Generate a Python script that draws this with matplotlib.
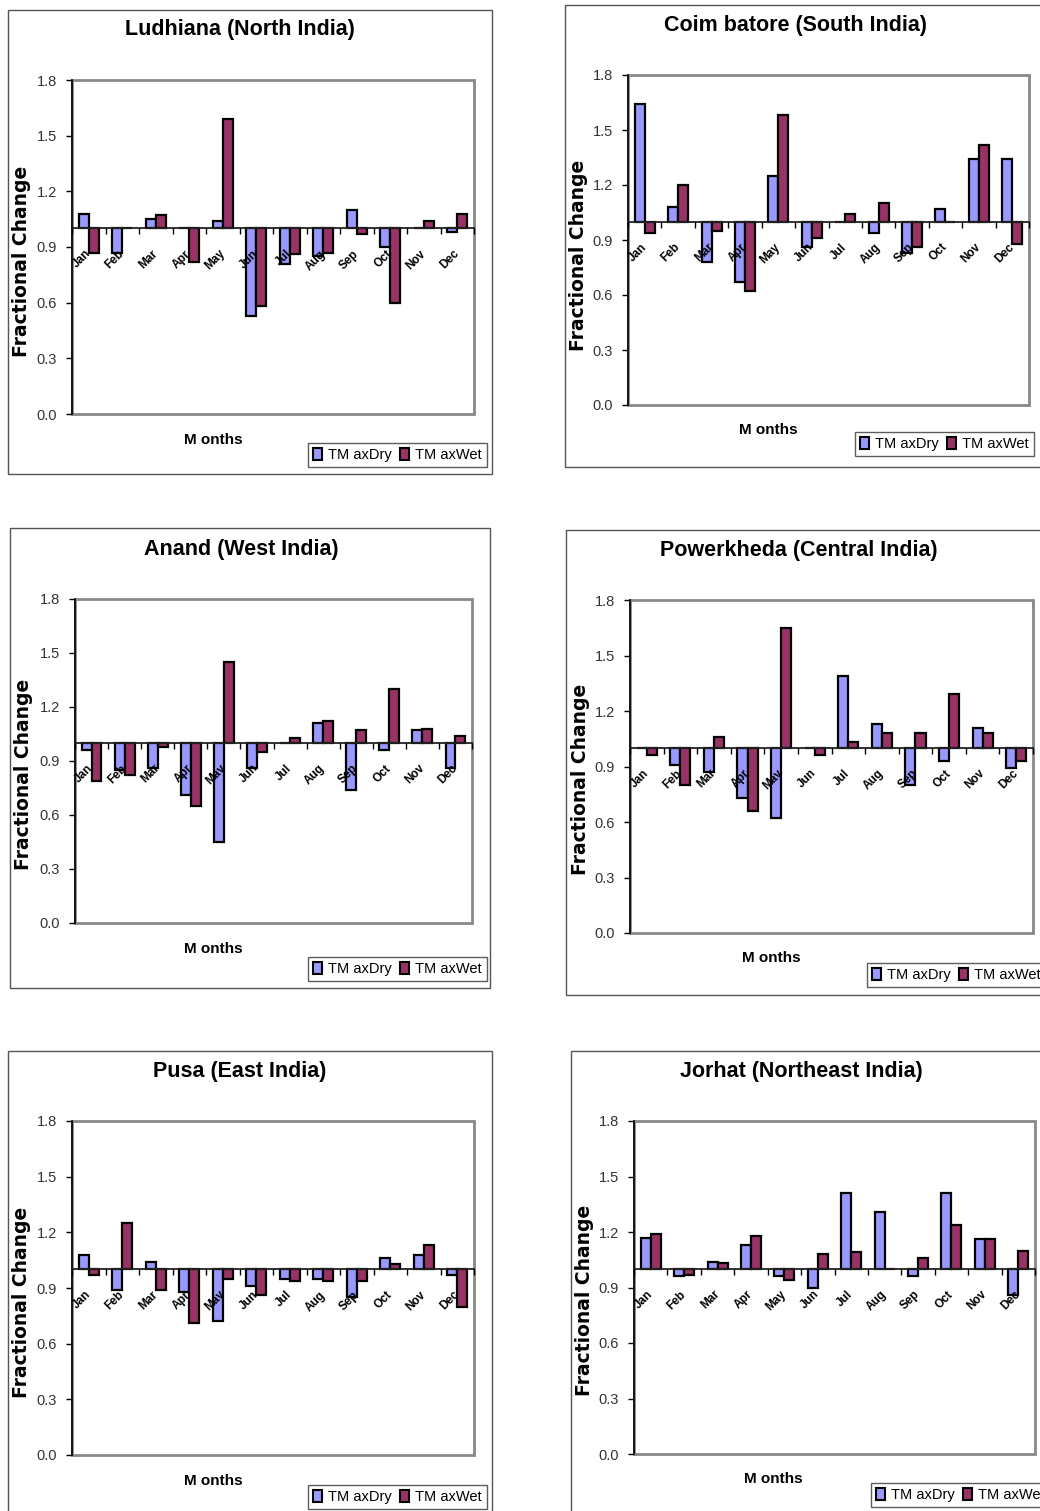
import matplotlib
matplotlib.use("Agg")
import matplotlib.pyplot as plt
from matplotlib.patches import Rectangle
import numpy as np

W, H = 1040, 1511

months = ["Jan", "Feb", "Mar", "Apr", "May", "Jun", "Jul", "Aug", "Sep", "Oct", "Nov", "Dec"]
series_names = ["TM axDry", "TM axWet"]
yticks = [0.0, 0.3, 0.6, 0.9, 1.2, 1.5, 1.8]

titles = ["Ludhiana (North India)", "Coim batore (South India)", "Anand (West India)",
          "Powerkheda (Central India)", "Pusa (East India)", "Jorhat (Northeast India)"]

ludhiana_dry = [1.08, 0.87, 1.05, 1.00, 1.04, 0.53, 0.81, 0.85, 1.10, 0.90, 1.00, 0.98]
ludhiana_wet = [0.87, 1.00, 1.07, 0.82, 1.59, 0.58, 0.86, 0.87, 0.97, 0.60, 1.04, 1.08]

coimbatore_dry = [1.64, 1.08, 0.78, 0.67, 1.25, 0.86, 1.00, 0.94, 0.83, 1.07, 1.34, 1.34]
coimbatore_wet = [0.94, 1.20, 0.95, 0.62, 1.58, 0.91, 1.04, 1.10, 0.86, 1.00, 1.42, 0.88]

anand_dry = [0.96, 0.85, 0.86, 0.71, 0.45, 0.86, 1.00, 1.11, 0.74, 0.96, 1.07, 0.86]
anand_wet = [0.79, 0.82, 0.98, 0.65, 1.45, 0.95, 1.03, 1.12, 1.07, 1.30, 1.08, 1.04]

powerkheda_dry = [1.00, 0.91, 0.87, 0.73, 0.62, 1.00, 1.39, 1.13, 0.80, 0.93, 1.11, 0.89]
powerkheda_wet = [0.96, 0.80, 1.06, 0.66, 1.65, 0.96, 1.03, 1.08, 1.08, 1.29, 1.08, 0.93]

pusa_dry = [1.08, 0.89, 1.04, 0.88, 0.72, 0.91, 0.95, 0.95, 0.85, 1.06, 1.08, 0.97]
pusa_wet = [0.97, 1.25, 0.89, 0.71, 0.95, 0.86, 0.94, 0.94, 0.94, 1.03, 1.13, 0.80]

jorhat_dry = [1.17, 0.96, 1.04, 1.13, 0.96, 0.90, 1.41, 1.31, 0.96, 1.41, 1.16, 0.86]
jorhat_wet = [1.19, 0.97, 1.03, 1.18, 0.94, 1.08, 1.09, 1.00, 1.06, 1.24, 1.16, 1.10]

data_dry = [ludhiana_dry, coimbatore_dry, anand_dry, powerkheda_dry, pusa_dry, jorhat_dry]
data_wet = [ludhiana_wet, coimbatore_wet, anand_wet, powerkheda_wet, pusa_wet, jorhat_wet]

# layout (pixels)
plot_boxes = [(72, 80, 474, 414), (628, 75, 1029, 405), (75, 599, 472, 923),
              (630, 600, 1033, 933), (72, 1121, 474, 1455), (634, 1121, 1035, 1454)]
frames = [(8, 10, 492, 474), (565, 5, 1046, 467), (10, 528, 490, 988),
          (566, 530, 1046, 995), (8, 1051, 492, 1516), (571, 1051, 1046, 1516)]
title_pos = [(240, 30), (796, 26), (241, 549), (799, 551), (240, 1072), (801, 1072)]
ylab_pos = [(22, 261), (578, 255), (24, 774), (580, 779), (22, 1302), (585, 1300)]
xlab_pos = [(213, 440), (768, 430), (213, 949), (771, 958), (213, 1481), (773, 1479)]
leg_pos = [(308, 443), (855, 432), (308, 957), (867, 963), (308, 1485), (871, 1483)]

c_dry = "#9999FF"
c_wet = "#993366"

plt.rcParams['font.family'] = ['Liberation Sans', 'DejaVu Sans']

fig = plt.figure(figsize=(W / 100, H / 100), dpi=100)
fig.patch.set_facecolor("white")


def fx(x):
    return x / W


def fy(y):
    return 1 - y / H


for k in range(6):
    fx0, fy0, fx1, fy1 = frames[k]
    fig.add_artist(Rectangle((fx(fx0), fy(fy1)), fx(fx1 - fx0), (fy1 - fy0) / H,
                             transform=fig.transFigure, facecolor="white",
                             edgecolor="#555555", lw=1.0, zorder=0))

    x0, y0, x1, y1 = plot_boxes[k]
    ax = fig.add_axes([fx(x0), fy(y1), fx(x1 - x0), (y1 - y0) / H])
    ax.set_facecolor("white")
    x = np.arange(12)
    dry = np.array(data_dry[k])
    wet = np.array(data_wet[k])
    bw = 0.3
    ax.bar(x - bw / 2, dry - 1.0, bottom=1.0, width=bw, color=c_dry,
           edgecolor="black", lw=1.6, label=series_names[0], zorder=2)
    ax.bar(x + bw / 2, wet - 1.0, bottom=1.0, width=bw, color=c_wet,
           edgecolor="black", lw=1.6, label=series_names[1], zorder=2)
    ax.set_xlim(-0.5, 11.5)
    ax.set_ylim(0, 1.8)
    ax.set_yticks(yticks)
    ax.set_yticklabels([f"{v:.1f}" for v in yticks], fontsize=10.5, color="#333333")
    ax.tick_params(axis="y", direction="out", length=4, width=1, pad=7, colors="black",
                   labelcolor="#333333")

    # gray plot-area frame
    ax.add_patch(Rectangle((0, 0), 1, 1, transform=ax.transAxes, fill=False,
                           edgecolor="#888888", lw=2, zorder=1, clip_on=False))
    for s in ["top", "right"]:
        ax.spines[s].set_visible(False)
    ax.spines["left"].set_color("black")
    ax.spines["left"].set_linewidth(1.2)
    ax.spines["left"].set_zorder(4)
    ax.spines["bottom"].set_position(("data", 1.0))
    ax.spines["bottom"].set_color("#222222")
    ax.spines["bottom"].set_linewidth(1.3)
    ax.spines["bottom"].set_zorder(4)

    ax.set_xticks(x)
    ax.set_xticklabels(months, rotation=45, ha="right", va="center",
                       rotation_mode="anchor", fontsize=8.5, fontweight="bold")
    ax.tick_params(axis="x", which="major", length=0, pad=17)
    ax.set_xticks(np.arange(-0.5, 12, 1.0), minor=True)
    ax.tick_params(axis="x", which="minor", length=4, width=1, direction="out")
    ax.xaxis.set_zorder(5)

    tx, ty = title_pos[k]
    fig.text(fx(tx), fy(ty), titles[k], ha="center", va="center", fontsize=15.5,
             fontweight="bold")
    lx, ly = ylab_pos[k]
    fig.text(fx(lx), fy(ly), "Fractional Change", ha="center", va="center",
             rotation=90, fontsize=13.5, fontweight="heavy", family=['DejaVu Sans'])
    mx, my = xlab_pos[k]
    fig.text(fx(mx), fy(my), "M onths", ha="center", va="center", fontsize=11,
             fontweight="bold")

    gx, gy = leg_pos[k]
    leg = ax.legend(loc="upper left", bbox_to_anchor=(fx(gx), fy(gy)),
                    bbox_transform=fig.transFigure, ncol=2, frameon=True,
                    fancybox=False, edgecolor="#333333", fontsize=10.5,
                    handlelength=0.6, handleheight=0.8, handletextpad=0.4,
                    columnspacing=0.6, borderpad=0.35, borderaxespad=0)
    leg.get_frame().set_linewidth(1.0)
    leg.set_zorder(6)
    for h in leg.legend_handles:
        h.set_linewidth(1.5)

fig.savefig("out.png", dpi=100, facecolor="white")
